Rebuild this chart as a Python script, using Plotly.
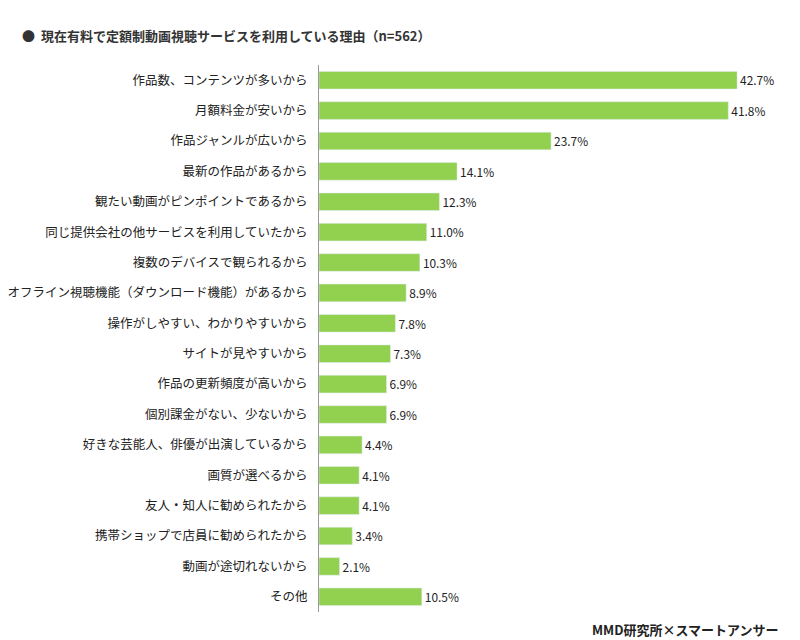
import plotly.graph_objects as go

reasons = ["作品数、コンテンツが多いから", "月額料金が安いから", "作品ジャンルが広いから",
           "最新の作品があるから", "観たい動画がピンポイントであるから",
           "同じ提供会社の他サービスを利用していたから", "複数のデバイスで観られるから",
           "オフライン視聴機能（ダウンロード機能）があるから", "操作がしやすい、わかりやすいから",
           "サイトが見やすいから", "作品の更新頻度が高いから", "個別課金がない、少ないから",
           "好きな芸能人、俳優が出演しているから", "画質が選べるから", "友人・知人に勧められたから",
           "携帯ショップで店員に勧められたから", "動画が途切れないから", "その他"]
values = [42.7, 41.8, 23.7, 14.1, 12.3, 11.0, 10.3, 8.9, 7.8, 7.3, 6.9, 6.9, 4.4, 4.1, 4.1, 3.4, 2.1, 10.5]

font = "Noto Sans CJK JP"
fig = go.Figure(go.Bar(
    x=values, y=reasons, orientation="h",
    marker=dict(color="#92D050"),
    text=[f"{v:.1f}%" for v in values], textposition="outside",
    textfont=dict(size=13.5, color="#222"), cliponaxis=False,
))
fig.update_layout(
    width=800, height=640, plot_bgcolor="white", paper_bgcolor="white",
    margin=dict(l=311, r=19, t=57, b=36),
    font=dict(family=font, size=12.5, color="#222"),
    bargap=0.42, showlegend=False,
    xaxis=dict(range=[0, 48], visible=False),
    yaxis=dict(autorange="reversed", showline=True, linecolor="#999", linewidth=1,
               ticks="", ticklabelstandoff=8, automargin=False),
    annotations=[
        dict(text="<b>●  現在有料で定額制動画視聴サービスを利用している理由（n=562）</b>",
             xref="paper", yref="paper", x=-311/470, y=1, yshift=30, xshift=12,
             xanchor="left", yanchor="middle", showarrow=False,
             font=dict(size=13, color="#333")),
        dict(text="<b>MMD研究所×スマートアンサー</b>", xref="paper", yref="paper",
             x=1, y=0, yshift=-17, xshift=-8, xanchor="right", yanchor="middle",
             showarrow=False, font=dict(size=13, color="#222")),
    ],
)
fig.write_html("out.html")
